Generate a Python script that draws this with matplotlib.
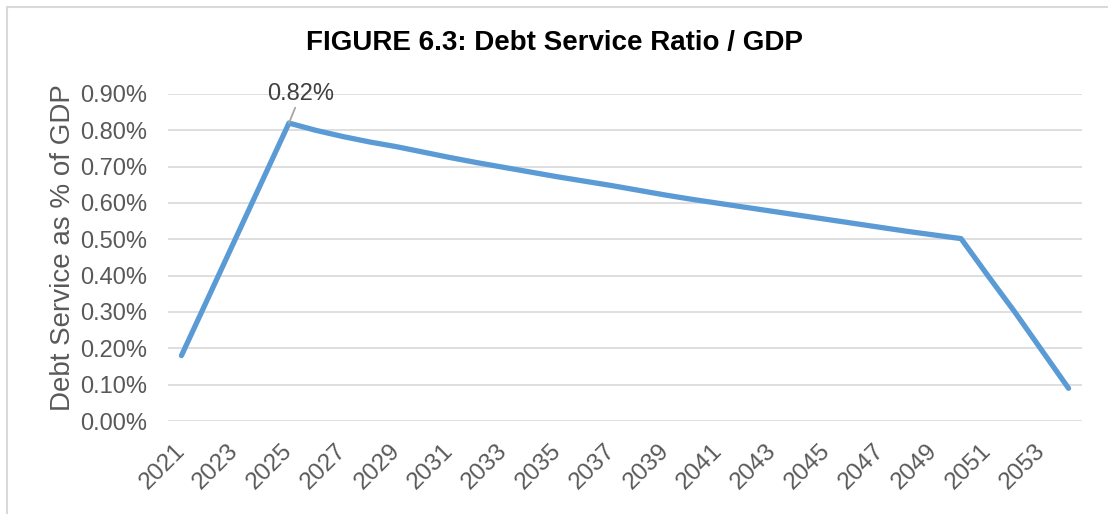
import matplotlib
matplotlib.use("Agg")
import matplotlib.pyplot as plt
from matplotlib.patches import Rectangle
from matplotlib.ticker import FuncFormatter, MultipleLocator

years = list(range(2021, 2055))
debt_service_pct = [
    0.18, 0.34, 0.50, 0.66, 0.82,
    0.80, 0.783, 0.768, 0.755, 0.740, 0.725, 0.711, 0.698, 0.685, 0.672,
    0.660, 0.648, 0.635, 0.622, 0.610, 0.599, 0.588, 0.577, 0.566, 0.555,
    0.544, 0.533, 0.522, 0.512, 0.502,
    0.40, 0.30, 0.195, 0.09,
]
tick_years = years[::2]
title = "FIGURE 6.3: Debt Service Ratio / GDP"
ylabel = "Debt Service as % of GDP"
peak_label = "0.82%"

plt.rcParams['font.family'] = ['Liberation Sans', 'DejaVu Sans']
W, H = 1108, 514
fig = plt.figure(figsize=(W / 100, H / 100), dpi=100)
ax = fig.add_axes([168 / W, 1 - 421 / H, (1082 - 168) / W, (421 - 94) / H])

ax.plot(years, debt_service_pct, color='#5B9BD5', lw=3.8, solid_capstyle='round',
        solid_joinstyle='round', zorder=3)

ax.set_xlim(2020.5, 2054.5)
ax.set_ylim(0, 0.9)
ax.yaxis.set_major_locator(MultipleLocator(0.1))
ax.yaxis.set_major_formatter(FuncFormatter(lambda v, p: f"{v:.2f}%"))
ax.set_xticks(tick_years)
ax.set_xticklabels([str(y) for y in tick_years], rotation=45, ha='right',
                   va='center', rotation_mode='anchor', fontsize=17.5)
ax.grid(axis='y', color='#D9D9D9', lw=1.2)
ax.set_axisbelow(True)
for s in ax.spines.values():
    s.set_visible(False)
ax.tick_params(axis='both', length=0, colors='#595959')
ax.tick_params(axis='y', pad=15, labelsize=17)
ax.tick_params(axis='x', pad=19)
ax.set_ylabel(ylabel, fontsize=20, color='#595959', labelpad=3)
ax.yaxis.label.set_y(0.53)

ax.annotate(peak_label, xy=(years[4], debt_service_pct[4]), xytext=(8.5, 21),
            textcoords='offset points', ha='center', va='center', fontsize=17,
            color='#404040',
            arrowprops=dict(arrowstyle='-', color='#A6A6A6', lw=1.3,
                            shrinkA=0, shrinkB=0))

fig.text(0.5, 1 - 43 / H, title, ha='center', va='center', fontsize=20,
         fontweight='bold', color='black')

fig.patches.append(Rectangle((7 / W, -0.05), 1.1, 1 - 7 / H + 0.05,
                             transform=fig.transFigure, fill=False,
                             edgecolor='#D9D9D9', lw=1.5))

fig.savefig('out.png', dpi=100)
